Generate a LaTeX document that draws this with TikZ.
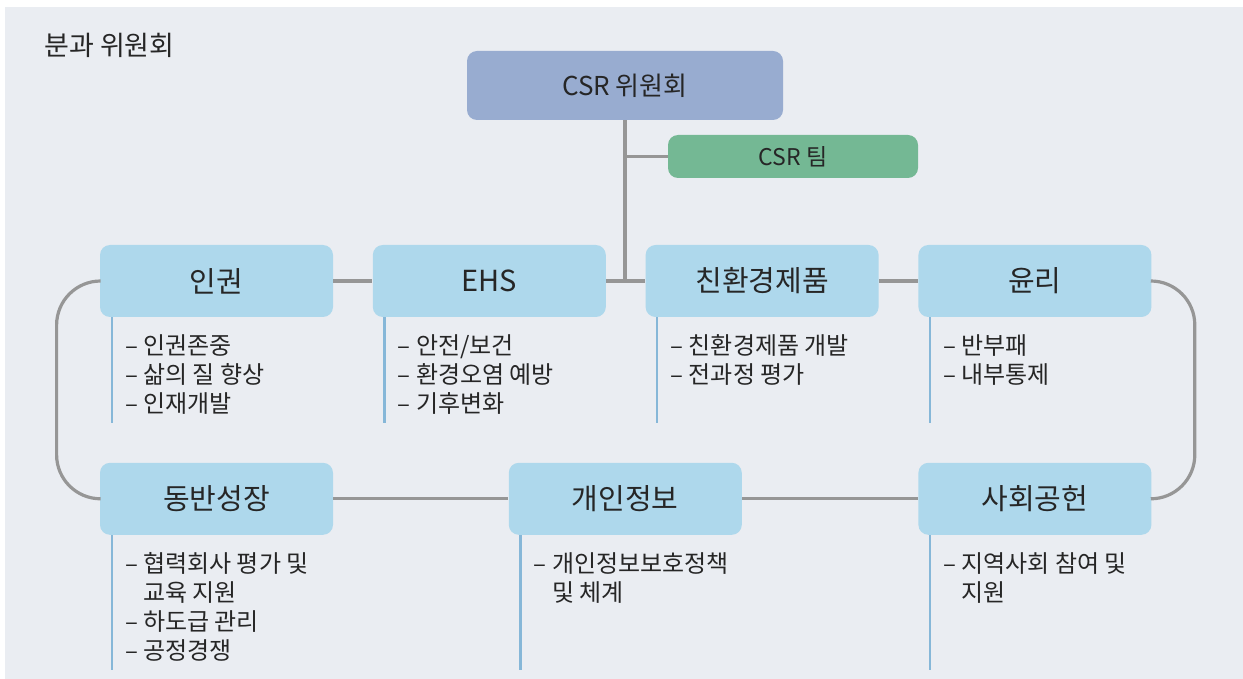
\documentclass[tikz,border=0pt]{standalone}
\usepackage{fontspec}
\setmainfont{Noto Sans CJK KR}
\usetikzlibrary{positioning}
\definecolor{pagegray}{HTML}{EAEDF2}
\definecolor{topblue}{HTML}{98ACD0}
\definecolor{teamgreen}{HTML}{74B894}
\definecolor{areablue}{HTML}{AED8EC}
\definecolor{linegray}{HTML}{969696}
\definecolor{barblue}{HTML}{86B7D8}
\tikzset{x=0.5pt, y=-0.5pt, % one unit is one pixel of the sketch, y grows downwards
        node distance=19.5pt, % gap between two boxes of a row
        box/.style={ % every rounded box
            rounded corners=5pt,
            inner sep=0pt,
            text=black!85},
        area/.style={ % the eight committee boxes
            box,
            fill=areablue,
            minimum width=116.5pt,
            minimum height=36pt,
            font=\fontsize{14.5}{16}\selectfont},
        link/.style={ % grey connectors
            draw=linegray,
            line width=1.6pt},
        ring/.style={link, rounded corners=22pt},
        bar/.style={draw=barblue, line width=1.1pt}, % blue rule beside a list
        items/.style={ % list under a box
            anchor=north west,
            inner sep=0pt,
            align=left,
            text=black!85,
            font=\fontsize{12}{14.5}\selectfont}
        }

\begin{document}
\begin{tikzpicture}
    \useasboundingbox (0,0) rectangle (1243,679);
    \fill[pagegray] (5,7) rectangle (1243,679);

    \node[anchor=west, inner sep=0pt, text=black!85, font=\fontsize{13.5}{16}\selectfont] (title) at (44,45) {분과 위원회};

    \node[box, fill=topblue, minimum width=158pt, minimum height=34.5pt,
          font=\fontsize{13}{16}\selectfont] (csr) at (625,85.5) {CSR 위원회};
    \node[box, fill=teamgreen, minimum width=125pt, minimum height=21.5pt,
          font=\fontsize{11.5}{14}\selectfont] (team) at (793,156.5) {CSR 팀};

    % first row
    \node[area] (rights) at (216.5,281) {인권};
    \node[area] (ehs) [right=of rights] {EHS};
    \node[area] (green) [right=of ehs] {친환경제품};
    \node[area] (ethics) [right=of green] {윤리};

    % second row
    \node[area] (partner) [below=72.5pt of rights] {동반성장};
    \node[area] (privacy) [right=87.5pt of partner] {개인정보};
    \node[area] (social) [below=72.5pt of ethics] {사회공헌};

    \draw[link]
        (csr) -- (csr |- ehs)
        (csr |- team) -- (team)
        (rights) -- (ehs)
        (ehs) -- (green)
        (green) -- (ethics)
        (partner) -- (privacy)
        (privacy) -- (social);
    \draw[ring] (rights.west) -- ++(-43,0) |- (partner.west);
    \draw[ring] (ethics.east) -- ++(43,0) |- (social.east);

    % lists
    \draw[bar] (rights.south west) ++(12,0) -- ++(0,106);
    \draw[bar] (ehs.south west) ++(12,0) -- ++(0,106);
    \draw[bar] (green.south west) ++(12,0) -- ++(0,106);
    \draw[bar] (ethics.south west) ++(12,0) -- ++(0,106);
    \draw[bar] (partner.south west) ++(12,0) -- ++(0,135);
    \draw[bar] (privacy.south west) ++(12,0) -- ++(0,135);
    \draw[bar] (social.south west) ++(12,0) -- ++(0,135);

    \node[items] (rights-list) at ([xshift=12.5pt, yshift=-8.5pt]rights.south west)
        {– 인권존중\\– 삶의 질 향상\\– 인재개발};
    \node[items] (ehs-list) at ([xshift=12.5pt, yshift=-8.5pt]ehs.south west)
        {– 안전/보건\\– 환경오염 예방\\– 기후변화};
    \node[items] (green-list) at ([xshift=12.5pt, yshift=-8.5pt]green.south west)
        {– 친환경제품 개발\\– 전과정 평가};
    \node[items] (ethics-list) at ([xshift=12.5pt, yshift=-8.5pt]ethics.south west)
        {– 반부패\\– 내부통제};
    \node[items] (partner-list) at ([xshift=12.5pt, yshift=-8.5pt]partner.south west)
        {– 협력회사 평가 및\\\hphantom{– }교육 지원\\– 하도급 관리\\– 공정경쟁};
    \node[items] (privacy-list) at ([xshift=12.5pt, yshift=-8.5pt]privacy.south west)
        {– 개인정보보호정책\\\hphantom{– }및 체계};
    \node[items] (social-list) at ([xshift=12.5pt, yshift=-8.5pt]social.south west)
        {– 지역사회 참여 및\\\hphantom{– }지원};
\end{tikzpicture}
\end{document}
